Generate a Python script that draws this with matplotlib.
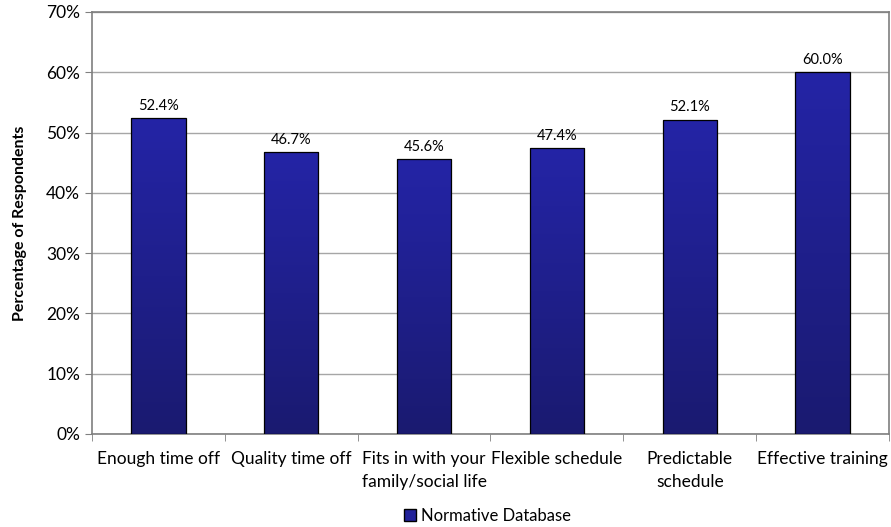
import matplotlib.pyplot as plt
import numpy as np
from matplotlib.ticker import FuncFormatter
from matplotlib.colors import LinearSegmentedColormap
from matplotlib.patches import Patch

categories = ['Enough time off', 'Quality time off', 'Fits in with your\nfamily/social life',
              'Flexible schedule', 'Predictable\nschedule', 'Effective training']
values = [52.4, 46.7, 45.6, 47.4, 52.1, 60.0]
series_name = 'Normative Database'

plt.rcParams['font.family'] = ['Lato', 'DejaVu Sans']

fig = plt.figure(figsize=(8.91, 5.27), dpi=100)
ax = fig.add_axes([92/891, 1 - 434/527, (889-92)/891, (434-12)/527])

x = np.arange(len(categories))
width = 0.41
bars = ax.bar(x, values, width, color='#1f1f8c', edgecolor='black', linewidth=0.9, zorder=3)

# vertical gradient inside each bar (lighter top, darker bottom)
grad = np.linspace(0, 1, 256).reshape(-1, 1)
cmap = LinearSegmentedColormap.from_list('g', ['#1a1a70', '#2424a6'])
for b in bars:
    im = ax.imshow(grad, cmap=cmap, origin='lower', aspect='auto',
                   extent=[b.get_x(), b.get_x() + b.get_width(), 0, b.get_height()], zorder=3)
    im.set_clip_path(b)
    b.set_facecolor('none')
    b.set_zorder(4)

for b, v in zip(bars, values):
    ax.annotate(f'{v:.1f}%', xy=(b.get_x() + b.get_width()/2, v), xytext=(0, 4),
                textcoords='offset points', ha='center', va='bottom', fontsize=10.5)

ax.set_xlim(-0.5, len(categories) - 0.5)
ax.set_ylim(0, 70)
ax.set_yticks(np.arange(0, 71, 10))
ax.yaxis.set_major_formatter(FuncFormatter(lambda v, p: f'{v:.0f}%'))
ax.grid(axis='y', color='#a6a6a6', linewidth=1, zorder=0)
ax.set_axisbelow(True)

ax.set_xticks(x)
ax.set_xticklabels(categories, fontsize=12.5, linespacing=1.55, va='top')
ax.set_xticks(np.arange(-0.5, len(categories)), minor=True)
ax.tick_params(axis='x', which='major', length=0, pad=12)
ax.tick_params(axis='x', which='minor', length=5, color='#808080', direction='out')
ax.tick_params(axis='y', labelsize=12.5, length=5, color='#808080', direction='out')

for s in ax.spines.values():
    s.set_color('#7f7f7f')
    s.set_linewidth(1.2)

ax.set_ylabel('Percentage of Respondents', fontsize=11.5, fontweight='bold', labelpad=14)

fig.legend(handles=[Patch(facecolor='#22229a', edgecolor='black', label=series_name)],
           loc='center', bbox_to_anchor=(0.547, 1 - 516/527), frameon=False, fontsize=12,
           handlelength=0.7, handleheight=0.7, handletextpad=0.3)

fig.savefig('out.png', dpi=100)
